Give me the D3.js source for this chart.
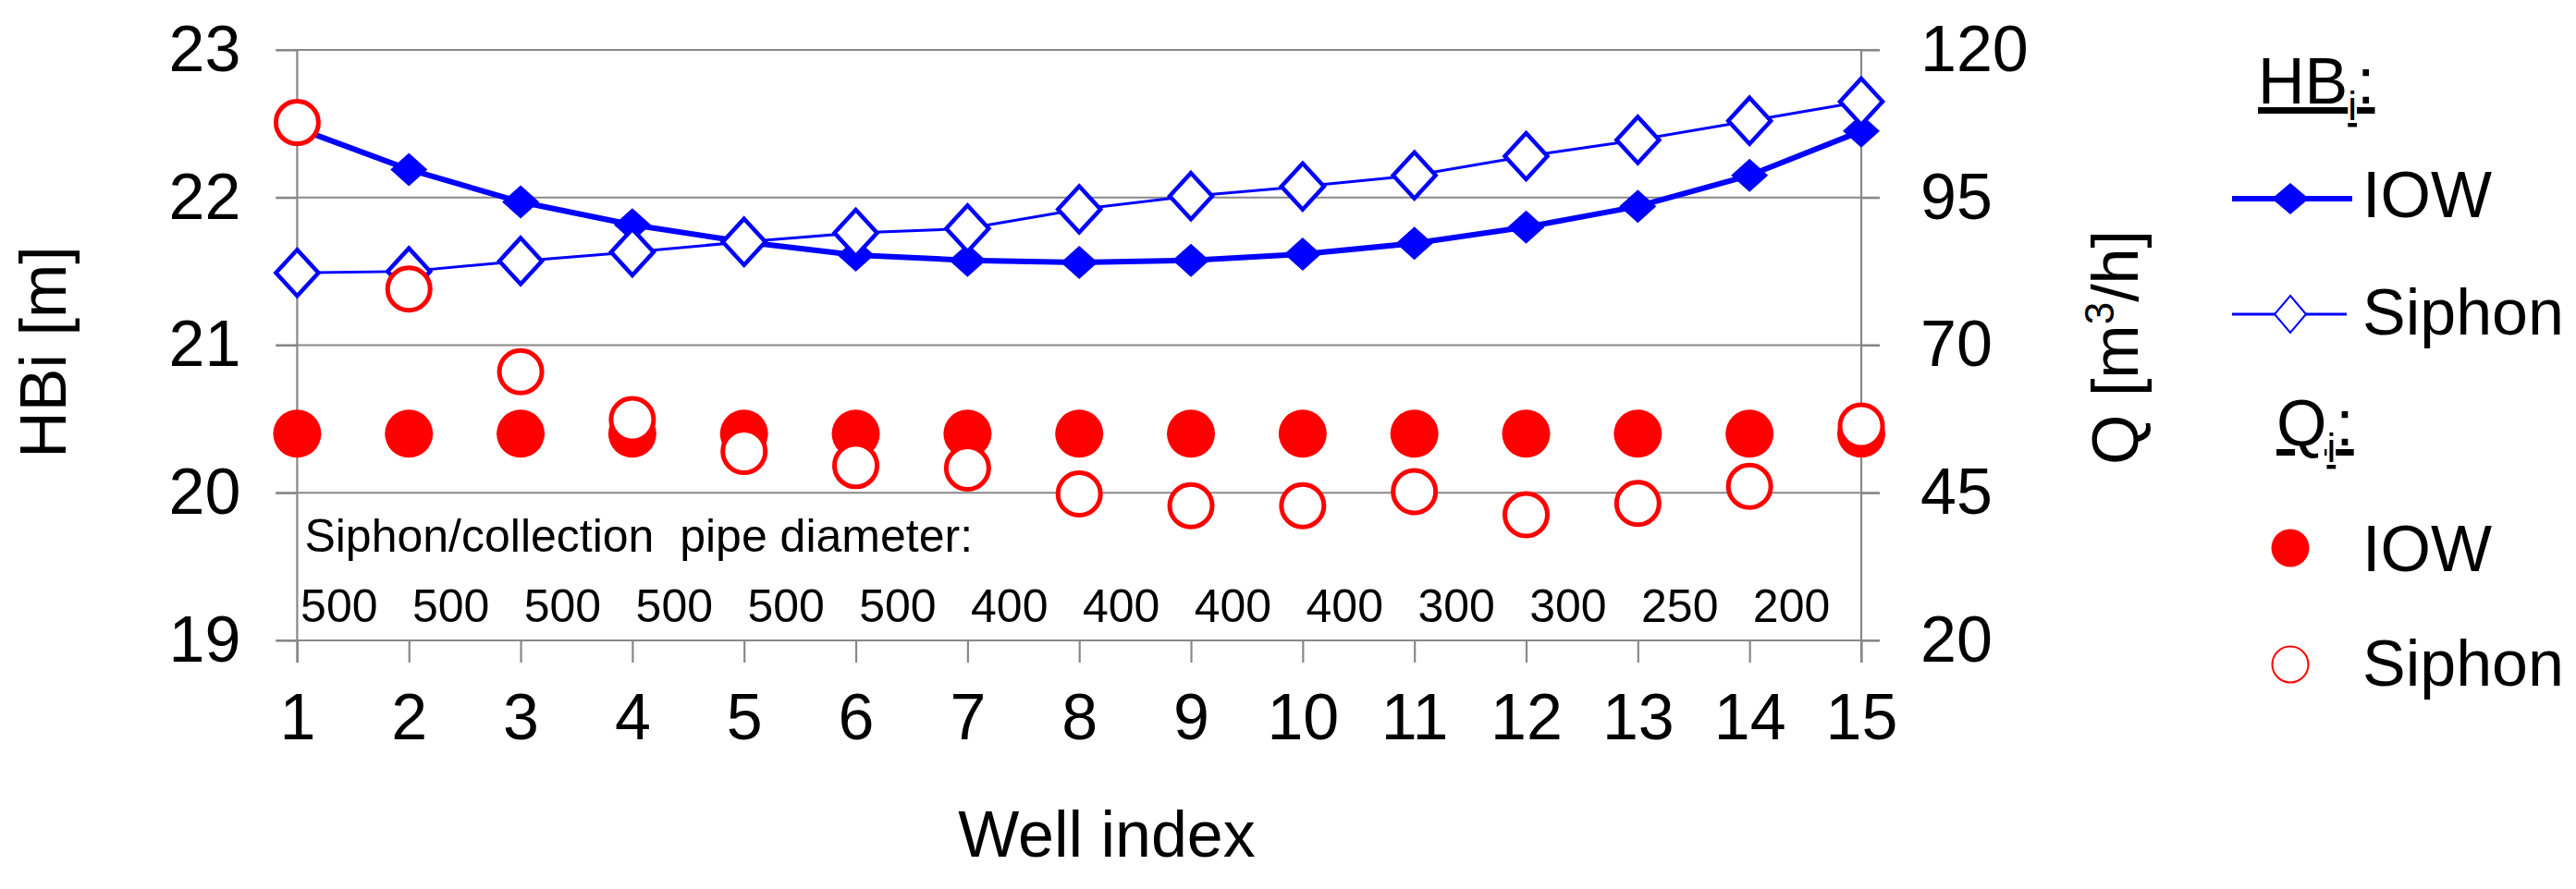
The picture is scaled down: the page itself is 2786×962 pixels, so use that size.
<!DOCTYPE html>
<html>
<head>
<meta charset="utf-8">
<script src="https://cdn.jsdelivr.net/npm/d3@7"></script>
<style>
  html, body { margin: 0; padding: 0; background: #ffffff; }
  svg { display: block; }
  text { font-family: "Liberation Sans", Arial, sans-serif; fill: #000; }
</style>
</head>
<body>
<svg id="chart" width="2786" height="962"></svg>
<script>
// ---------- data ----------
const wells = [1, 2, 3, 4, 5, 6, 7, 8, 9, 10, 11, 12, 13, 14, 15];
const hbIOW = [22.47, 22.19, 21.97, 21.815, 21.70, 21.61, 21.575, 21.56, 21.575, 21.617, 21.69, 21.80, 21.94, 22.15, 22.45];
const hbSiphon = [21.49, 21.50, 21.57, 21.63, 21.70, 21.76, 21.79, 21.92, 22.01, 22.075, 22.15, 22.28, 22.39, 22.52, 22.65];
const qIOW = [55, 55, 55, 55, 55, 55, 55, 55, 55, 55, 55, 55, 55, 55, 55];
const qSiphon = [107.7, 79.5, 65.5, 57.4, 52.0, 49.6, 49.2, 44.8, 42.8, 42.8, 45.2, 41.3, 43.2, 46.1, 56.3];
const diameters = [500, 500, 500, 500, 500, 500, 400, 400, 400, 400, 300, 300, 250, 200];
const leftTicks = [19, 20, 21, 22, 23];
const rightTicks = [20, 45, 70, 95, 120];
const leftTitle = "HBi [m]";
const xTitle = "Well index";
const diameterTitle = "Siphon/collection  pipe diameter:";

// ---------- layout ----------
const BLUE = "#0000ff", RED = "#ff0000", GRID = "#888888";
const FONT = 70;
const svg = d3.select("#chart");
svg.append("rect").attr("width", 2786).attr("height", 962).attr("fill", "#fff");

const x = d3.scaleLinear().domain([1, 15]).range([321.4, 2013]);
const yL = d3.scaleLinear().domain([19, 23]).range([693, 54]);
const yR = d3.scaleLinear().domain([20, 120]).range([693, 54]);
const plotLeft = x(1), plotRight = x(15), plotTop = yL(23), plotBottom = yL(19);

// gridlines
svg.append("g").selectAll("line").data(leftTicks).join("line")
  .attr("x1", plotLeft - 23).attr("x2", plotRight + 20)
  .attr("y1", d => yL(d)).attr("y2", d => yL(d))
  .attr("stroke", GRID).attr("stroke-width", 2.2);

// axis lines
[plotLeft, plotRight].forEach(px => {
  svg.append("line").attr("x1", px).attr("x2", px)
    .attr("y1", plotTop).attr("y2", plotBottom + 24)
    .attr("stroke", GRID).attr("stroke-width", 2.2);
});

function styleAxis(g) {
  g.select(".domain").remove();
  g.selectAll(".tick line").attr("stroke", GRID).attr("stroke-width", 2.2);
  g.selectAll(".tick text").attr("font-size", FONT)
    .attr("font-family", '"Liberation Sans", Arial, sans-serif').attr("fill", "#000");
  g.attr("font-size", null).attr("font-family", null);
}

// x axis
svg.append("g").attr("transform", `translate(0,${plotBottom})`)
  .call(d3.axisBottom(x).tickValues(wells).tickSize(24).tickPadding(33).tickFormat(d3.format("d")))
  .call(styleAxis);

// left axis
svg.append("g").attr("transform", `translate(${plotLeft},0)`)
  .call(d3.axisLeft(yL).tickValues(leftTicks).tickSize(23).tickPadding(38).tickFormat(d3.format("d")))
  .call(styleAxis);

// right axis
svg.append("g").attr("transform", `translate(${plotRight},0)`)
  .call(d3.axisRight(yR).tickValues(rightTicks).tickSize(20).tickPadding(44).tickFormat(d3.format("d")))
  .call(styleAxis);

// axis titles
svg.append("text").attr("transform", "translate(71,381) rotate(-90)")
  .attr("text-anchor", "middle").attr("font-size", FONT).text(leftTitle);

const qt = svg.append("text").attr("transform", "translate(2312,376) rotate(-90)")
  .attr("text-anchor", "middle").attr("font-size", FONT);
qt.append("tspan").text("Q [m");
qt.append("tspan").attr("font-size", 44).attr("dy", -26).text("3");
qt.append("tspan").attr("dy", 26).text("/h]");

svg.append("text").attr("x", 1197).attr("y", 927).attr("text-anchor", "middle")
  .attr("font-size", FONT).text(xTitle);

// diameter annotation
svg.append("text").attr("x", plotLeft + 8).attr("y", 597).attr("font-size", 50)
  .style("white-space", "pre").text(diameterTitle);
svg.append("g").selectAll("text").data(diameters).join("text")
  .attr("x", (d, i) => x(wells[i] + 0.5) - 15).attr("y", 673)
  .attr("text-anchor", "middle").attr("font-size", 50).text(d => d);

// ---------- marks ----------
function diamond(cx, cy, hw, hh) {
  return `M${cx},${cy - hh}L${cx + hw},${cy}L${cx},${cy + hh}L${cx - hw},${cy}Z`;
}

const lineL = d3.line().x((d, i) => x(wells[i])).y(d => yL(d));

// HB IOW
svg.append("path").datum(hbIOW).attr("d", lineL)
  .attr("fill", "none").attr("stroke", BLUE).attr("stroke-width", 6).attr("stroke-linejoin", "round");
svg.append("g").selectAll("path").data(hbIOW).join("path")
  .attr("d", (d, i) => diamond(x(wells[i]), yL(d), 20, 18))
  .attr("fill", BLUE);

// HB Siphon
svg.append("path").datum(hbSiphon).attr("d", lineL)
  .attr("fill", "none").attr("stroke", BLUE).attr("stroke-width", 3);
svg.append("g").selectAll("path").data(hbSiphon).join("path")
  .attr("d", (d, i) => diamond(x(wells[i]), yL(d), 23, 25))
  .attr("fill", "#fff").attr("stroke", BLUE).attr("stroke-width", 4.5);

// Q IOW
svg.append("g").selectAll("circle").data(qIOW).join("circle")
  .attr("cx", (d, i) => x(wells[i])).attr("cy", d => yR(d)).attr("r", 26)
  .attr("fill", RED);

// Q Siphon
svg.append("g").selectAll("circle").data(qSiphon).join("circle")
  .attr("cx", (d, i) => x(wells[i])).attr("cy", d => yR(d)).attr("r", 23)
  .attr("fill", "#fff").attr("stroke", RED).attr("stroke-width", 5);

// ---------- legend ----------
const lg = svg.append("g");
const hbHead = lg.append("text").attr("x", 2442).attr("y", 112).attr("font-size", FONT)
  .style("text-decoration", "underline");
hbHead.append("tspan").text("HB");
hbHead.append("tspan").attr("font-size", 44).attr("dy", 18).text("i");
hbHead.append("tspan").attr("dy", -18).text(":");

lg.append("line").attr("x1", 2414).attr("x2", 2544).attr("y1", 215).attr("y2", 215)
  .attr("stroke", BLUE).attr("stroke-width", 6);
lg.append("path").attr("d", diamond(2477, 215, 20, 17)).attr("fill", BLUE);
lg.append("text").attr("x", 2555).attr("y", 235).attr("font-size", FONT).text("IOW");

lg.append("line").attr("x1", 2414).attr("x2", 2538).attr("y1", 340).attr("y2", 340)
  .attr("stroke", BLUE).attr("stroke-width", 3);
lg.append("path").attr("d", diamond(2477, 340, 17, 20)).attr("fill", "#fff")
  .attr("stroke", BLUE).attr("stroke-width", 2);
lg.append("text").attr("x", 2555).attr("y", 362).attr("font-size", FONT).text("Siphon");

const qHead = lg.append("text").attr("x", 2462).attr("y", 482).attr("font-size", FONT)
  .style("text-decoration", "underline");
qHead.append("tspan").text("Q");
qHead.append("tspan").attr("font-size", 44).attr("dy", 18).text("i");
qHead.append("tspan").attr("dy", -18).text(":");

lg.append("circle").attr("cx", 2477).attr("cy", 593).attr("r", 20.5).attr("fill", RED);
lg.append("text").attr("x", 2555).attr("y", 618).attr("font-size", FONT).text("IOW");

lg.append("circle").attr("cx", 2477).attr("cy", 719).attr("r", 19.5).attr("fill", "#fff")
  .attr("stroke", RED).attr("stroke-width", 2);
lg.append("text").attr("x", 2555).attr("y", 742).attr("font-size", FONT).text("Siphon");
</script>
</body>
</html>
